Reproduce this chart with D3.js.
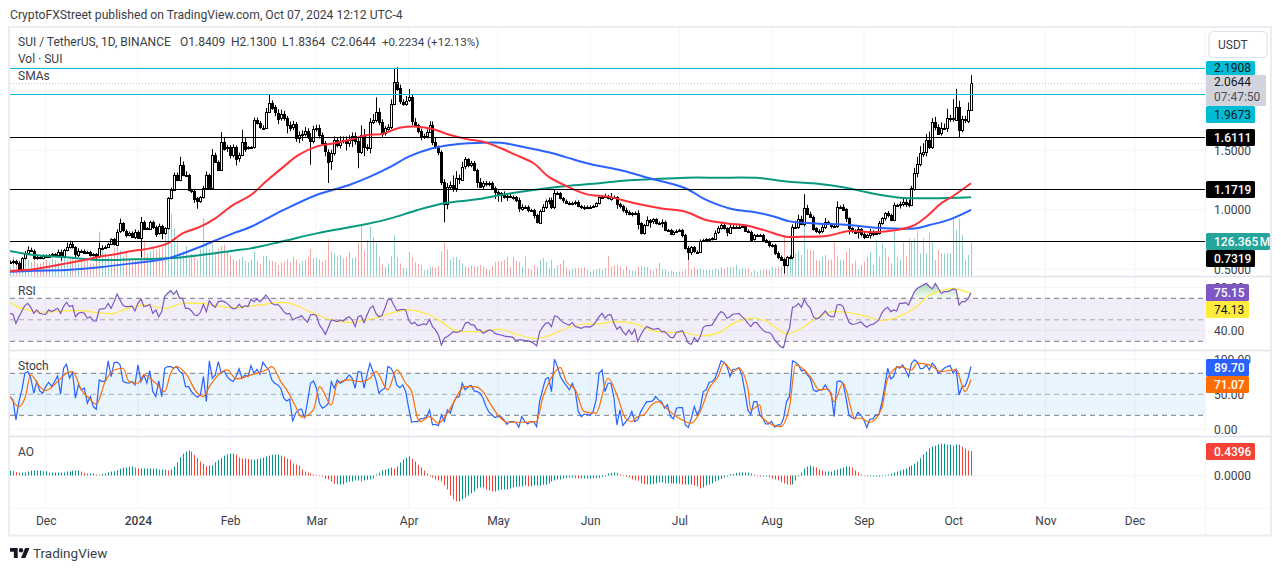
<!DOCTYPE html>
<html>
<head>
<meta charset="utf-8">
<script src="https://cdn.jsdelivr.net/npm/d3@7"></script>
<style>
  html, body { margin: 0; padding: 0; background: #fff; }
  svg { display: block; font-family: Roboto, "Noto Sans", sans-serif; }
  .legend { font-size: 12px; fill: #3b3e48; }
  .axis-label text { font-size: 12px; fill: #3b3e48; font-family: Roboto, "Noto Sans", sans-serif; }
  .axis-label path, .axis-label line { display: none; }
</style>
</head>
<body>
<div id="chart"></div>
<script>
const WIDTH = 1281;
const HEIGHT = 571;

const firstDay = Date.UTC(2023, 10, 19);
const lastPrice = 2.0644;

const closes = [
  0.563,0.569,0.555,0.499,0.591,0.633,0.661,0.656,0.600,0.605,
  0.594,0.614,0.605,0.619,0.625,0.617,0.645,0.611,0.661,0.684,
  0.709,0.684,0.622,0.656,0.656,0.639,0.645,0.617,0.625,0.605,
  0.675,0.681,0.689,0.712,0.751,0.709,0.815,0.885,0.824,0.787,
  0.807,0.773,0.815,0.768,0.899,0.843,0.843,0.899,0.857,0.801,
  0.863,0.801,0.843,1.096,1.166,1.292,1.250,1.376,1.292,1.292,
  1.166,1.160,1.096,1.068,1.104,1.180,1.292,1.180,1.460,1.404,
  1.334,1.572,1.516,1.524,1.460,1.530,1.432,1.460,1.572,1.516,
  1.524,1.524,1.754,1.726,1.689,1.689,1.824,1.899,1.860,1.815,
  1.768,1.801,1.768,1.712,1.689,1.717,1.600,1.628,1.636,1.664,
  1.614,1.577,1.675,1.684,1.628,1.558,1.488,1.404,1.474,1.586,
  1.544,1.577,1.586,1.558,1.586,1.619,1.577,1.488,1.628,1.530,
  1.524,1.740,1.754,1.824,1.740,1.642,1.684,1.698,1.888,2.076,
  2.020,1.908,1.894,1.916,1.944,1.740,1.712,1.661,1.614,1.619,
  1.656,1.712,1.572,1.530,1.488,1.236,1.054,1.194,1.208,1.180,
  1.264,1.255,1.362,1.423,1.376,1.390,1.334,1.236,1.194,1.222,
  1.216,1.227,1.185,1.152,1.138,1.124,1.104,1.115,1.110,1.104,
  1.082,1.011,1.026,1.026,0.998,0.998,0.956,0.894,0.992,1.026,
  1.076,1.082,1.026,1.143,1.138,1.096,1.076,1.059,1.048,1.059,
  1.068,1.031,1.026,1.017,1.026,1.026,1.031,1.054,1.104,1.110,
  1.115,1.096,1.110,1.104,1.048,1.031,0.998,0.984,0.964,0.970,
  0.975,0.885,0.801,0.871,0.913,0.899,0.919,0.885,0.891,0.899,
  0.829,0.829,0.796,0.815,0.824,0.829,0.787,0.675,0.639,0.684,
  0.647,0.647,0.740,0.745,0.751,0.751,0.759,0.807,0.843,0.871,
  0.843,0.807,0.857,0.857,0.857,0.857,0.863,0.824,0.815,0.751,
  0.787,0.787,0.787,0.745,0.731,0.703,0.703,0.639,0.605,0.583,
  0.535,0.600,0.605,0.857,0.849,0.919,0.880,1.011,0.964,0.941,
  0.843,0.815,0.824,0.857,0.899,0.880,0.863,0.857,1.020,1.026,
  1.003,0.927,0.843,0.815,0.807,0.835,0.796,0.773,0.787,0.807,
  0.796,0.801,0.885,0.927,0.969,0.956,0.913,1.040,1.040,1.048,
  1.068,1.054,1.040,1.180,1.311,1.384,1.474,1.488,1.586,1.530,
  1.740,1.698,1.642,1.684,1.684,1.768,1.768,1.759,1.866,1.670,
  1.759,1.748,1.8409,2.0644
];

const upperWicks = [
  .01,.01,.01,.01,.01,.02,.03,.02,.01,.01,
  .01,.01,.01,.01,.01,.01,.02,.02,.01,.04,
  .03,.02,.01,.02,.01,.01,.01,.01,.01,.01,
  .05,.02,.01,.01,.01,.01,.02,.04,.01,.01,
  .01,.01,.02,.01,.04,.01,.01,.01,.01,.01,
  .02,.01,.01,.01,.02,.02,.02,.07,.03,.03,
  .01,.01,.01,.01,.01,.02,.03,.01,.05,.02,
  .01,.08,.04,.02,.02,.02,.01,.02,.10,.03,
  .01,.01,.02,.02,.02,.02,.03,.07,.02,.02,
  .03,.04,.03,.02,.03,.03,.02,.03,.03,.03,
  .02,.03,.03,.03,.03,.02,.02,.02,.03,.03,
  .02,.04,.03,.03,.04,.03,.03,.03,.08,.05,
  .02,.03,.05,.12,.03,.02,.02,.02,.04,.11,
  .12,.03,.02,.04,.07,.02,.03,.01,.02,.02,
  .02,.03,.03,.03,.01,.01,.02,.03,.03,.08,
  .06,.03,.04,.02,.01,.02,.02,.01,.03,.02,
  .02,.01,.01,.01,.01,.01,.03,.01,.02,.01,
  .01,.02,.02,.01,.01,.01,.01,.01,.01,.02,
  .01,.02,.02,.03,.01,.01,.01,.01,.01,.01,
  .01,.01,.01,.01,.01,.01,.01,.01,.01,.01,
  .02,.01,.03,.01,.01,.01,.01,.02,.01,.01,
  .01,.02,.01,.01,.03,.01,.01,.01,.01,.02,
  .01,.01,.01,.01,.01,.01,.01,.01,.02,.01,
  .01,.01,.01,.01,.01,.01,.01,.02,.02,.02,
  .02,.01,.02,.02,.01,.02,.01,.01,.01,.01,
  .01,.01,.01,.01,.01,.01,.01,.01,.01,.01,
  .01,.01,.01,.02,.05,.04,.03,.12,.03,.02,
  .01,.01,.01,.02,.03,.01,.01,.01,.05,.01,
  .02,.01,.01,.01,.02,.02,.01,.02,.01,.03,
  .02,.02,.02,.01,.01,.02,.01,.02,.01,.02,
  .03,.02,.03,.02,.04,.06,.06,.07,.05,.07,
  .03,.04,.02,.05,.04,.08,.03,.16,.15,.05,
  .03,.03,.06,.066
];

const lowerWicks = [
  .01,.02,.02,.01,.01,.01,.01,.01,.02,.02,
  .01,.01,.01,.01,.01,.01,.01,.04,.01,.01,
  .01,.01,.02,.02,.01,.01,.01,.01,.01,.03,
  .01,.01,.01,.01,.01,.01,.01,.01,.01,.02,
  .01,.01,.02,.01,.17,.01,.01,.01,.02,.03,
  .01,.05,.01,.01,.01,.01,.01,.01,.01,.01,
  .01,.02,.04,.06,.01,.01,.01,.01,.01,.01,
  .01,.01,.02,.03,.03,.02,.06,.03,.01,.03,
  .01,.01,.01,.01,.01,.01,.01,.01,.02,.03,
  .05,.02,.02,.07,.03,.02,.03,.04,.05,.02,
  .02,.20,.02,.02,.03,.02,.04,.18,.07,.02,
  .02,.03,.02,.06,.03,.06,.03,.14,.02,.08,
  .03,.05,.02,.02,.03,.03,.02,.02,.02,.01,
  .02,.02,.02,.02,.01,.03,.01,.02,.03,.02,
  .02,.01,.03,.02,.03,.03,.16,.05,.02,.03,
  .03,.04,.01,.02,.02,.02,.01,.05,.01,.02,
  .02,.02,.02,.06,.07,.06,.01,.03,.01,.02,
  .02,.03,.02,.01,.02,.01,.03,.01,.01,.01,
  .02,.03,.02,.02,.01,.01,.02,.01,.01,.01,
  .02,.01,.02,.02,.01,.01,.01,.01,.01,.01,
  .01,.01,.02,.01,.04,.02,.02,.03,.01,.02,
  .01,.05,.01,.01,.01,.05,.02,.01,.01,.04,
  .01,.01,.01,.01,.01,.01,.02,.01,.06,.02,
  .01,.01,.01,.01,.01,.01,.01,.01,.01,.01,
  .01,.03,.01,.01,.01,.01,.01,.01,.01,.02,
  .01,.01,.01,.01,.01,.02,.02,.02,.02,.01,
  .07,.01,.01,.02,.01,.01,.01,.02,.01,.01,
  .02,.01,.02,.02,.02,.01,.02,.01,.01,.01,
  .01,.03,.05,.01,.01,.05,.02,.02,.01,.03,
  .02,.01,.01,.01,.02,.02,.01,.01,.01,.03,
  .02,.03,.02,.01,.02,.04,.02,.03,.04,.02,
  .02,.03,.01,.02,.01,.03,.03,.02,.01,.06,
  .02,.02,.02,.003
];

const volumes = [
  34,71,40,59,46,71,59,52,59,46,
  46,52,59,52,65,59,52,61,71,59,
  65,71,59,46,52,59,59,46,46,59,
  162,107,83,71,71,101,137,95,71,83,
  59,61,59,52,193,131,83,89,107,98,
  101,107,174,218,227,174,137,83,89,110,
  70,80,70,60,100,212,130,100,115,90,
  100,110,115,93,75,60,55,62,70,55,
  50,60,89,55,46,73,74,60,55,50,
  40,52,55,61,52,70,60,46,55,59,
  71,98,65,65,60,52,60,134,89,83,
  71,77,65,70,89,65,70,122,184,95,
  132,180,143,120,70,43,34,46,73,149,
  70,46,30,28,89,70,50,44,40,20,
  24,32,34,30,36,90,126,98,60,70,
  70,60,46,34,32,38,34,36,40,34,
  26,22,38,52,55,52,59,71,34,71,
  55,52,34,71,28,22,40,34,59,65,
  52,28,59,28,40,44,59,32,22,28,
  28,30,28,32,22,16,22,24,28,22,
  28,73,34,40,40,34,24,37,22,20,
  20,34,37,34,32,22,18,28,49,24,
  24,16,20,16,13,16,16,24,59,24,
  34,24,28,24,22,24,22,26,24,32,
  26,32,32,34,40,24,28,24,28,13,
  20,16,22,22,24,22,32,30,32,34,
  148,52,77,85,85,93,77,180,98,95,
  93,59,55,71,77,59,61,126,71,59,
  59,89,101,46,55,22,40,52,71,89,
  40,132,71,120,101,71,46,168,71,59,
  122,71,138,126,138,168,83,138,83,159,
  126,59,95,83,83,83,83,207,168,211,
  150,61,77,126.365
];

const sma50Days = [0,8,13,19,25,30,36,41,47,53,58,64,69,75,81,86,92,97,103,109,114,120,125,131,137,142,148,154,159,165,170,176,181,187,194,201,210,219,227,234,241,248,254,261,266,275,282,290,298,304,308,313,317,323];
const sma50Values = [0.485,0.499,0.521,0.549,0.577,0.605,0.628,0.653,0.675,0.717,0.801,0.857,0.927,1.040,1.124,1.236,1.362,1.460,1.530,1.558,1.586,1.628,1.636,1.689,1.698,1.678,1.628,1.591,1.572,1.516,1.460,1.390,1.278,1.199,1.129,1.110,1.054,1.011,0.983,0.913,0.885,0.866,0.824,0.773,0.773,0.782,0.821,0.810,0.829,0.871,0.941,1.054,1.115,1.222];
const sma100Days = [0,8,19,30,41,53,64,68,75,81,92,103,114,121,128,134,142,148,154,165,171,181,187,195,206,215,227,234,243,250,257,262,271,282,291,304,309,316,323];
const sma100Values = [0.479,0.488,0.493,0.516,0.549,0.591,0.689,0.731,0.801,0.857,0.998,1.124,1.208,1.278,1.362,1.446,1.516,1.544,1.558,1.563,1.535,1.482,1.440,1.384,1.328,1.264,1.180,1.082,1.003,0.981,0.941,0.902,0.885,0.871,0.849,0.843,0.871,0.919,0.998];
const sma200Days = [0,8,19,30,41,53,64,75,81,92,103,120,128,137,146,157,165,176,187,198,206,215,227,238,252,261,270,281,288,299,310,323];
const sma200Values = [0.653,0.619,0.600,0.577,0.583,0.591,0.619,0.656,0.675,0.737,0.801,0.880,0.927,0.998,1.054,1.087,1.124,1.166,1.199,1.222,1.244,1.255,1.269,1.269,1.266,1.236,1.222,1.185,1.146,1.101,1.096,1.104];

const blackLevels = [1.6111, 1.1719, 0.7319];
const cyanLevels = [2.1908, 1.9673];
const priceTicks = [2, 1.5, 1, 0.5];
const priceLabelTicks = [1.5, 1, 0.5];

const rsiValues = [
  56.0,55.1,46.7,52.9,58.2,63.2,65.3,61.6,56.0,59.2,
  56.0,55.4,55.1,59.2,57.6,59.2,60.7,56.0,62.3,66.3,
  62.3,63.2,52.9,56.0,57.0,56.0,51.4,52.9,48.9,48.9,
  59.8,60.1,60.7,65.3,60.7,66.9,74.0,68.5,63.2,62.3,
  62.3,62.9,58.2,65.3,69.4,62.3,62.9,64.4,56.0,59.2,
  52.9,57.6,71.6,74.7,77.1,73.7,77.1,70.0,70.0,60.7,
  60.7,58.2,54.5,53.9,57.0,64.4,57.6,67.8,63.8,61.6,
  66.9,67.5,66.9,65.3,62.3,60.1,60.7,64.4,61.3,63.2,
  62.3,69.4,66.9,69.4,66.9,69.4,73.1,69.4,65.3,63.8,
  64.4,61.6,57.6,55.4,56.0,49.9,51.4,52.3,53.9,50.5,
  47.7,54.5,55.1,53.9,45.2,41.5,36.5,43.0,49.9,49.2,
  48.3,49.9,48.9,51.4,52.9,49.9,43.7,52.9,53.9,47.4,
  54.5,60.7,62.9,56.0,52.9,53.9,60.7,68.5,69.4,63.8,
  58.5,59.2,59.8,59.2,49.9,46.1,47.7,44.6,45.2,46.1,
  45.6,50.5,43.7,40.6,35.9,26.6,32.8,34.4,36.5,39.0,
  38.4,38.9,40.6,46.7,47.7,45.2,45.2,40.6,40.6,37.4,
  39.0,40.6,39.9,37.4,36.5,
  35.9,35.0,34.4,34.4,33.7,30.6,31.3,31.3,30.6,30.6,
  29.7,28.2,25.7,39.0,43.0,46.7,47.4,43.7,53.6,52.9,
  49.9,47.4,46.1,45.2,47.4,43.7,43.0,42.1,43.3,43.7,
  43.3,45.2,48.3,52.9,56.0,51.4,54.5,54.5,46.7,41.2,
  43.7,39.0,35.9,40.6,36.5,41.2,29.7,35.9,40.6,43.7,
  42.5,41.2,41.5,42.1,39.0,39.0,36.5,33.7,33.4,38.4,
  39.0,39.9,34.4,28.2,27.2,33.4,29.7,34.4,43.0,44.6,
  44.6,45.2,49.9,54.5,57.6,56.0,51.4,52.9,55.4,55.4,
  56.0,52.9,50.5,46.7,43.7,47.4,47.4,43.7,40.6,38.4,
  38.4,36.5,31.3,28.2,25.0,24.1,35.9,42.1,61.6,62.3,
  65.3,61.6,69.1,63.8,60.7,52.9,50.8,52.0,55.1,58.2,
  54.5,52.9,52.9,63.8,64.4,62.3,54.5,47.7,45.8,46.1,
  47.0,48.3,45.2,43.0,45.2,45.8,47.4,49.9,56.0,59.8,
  61.6,57.6,59.2,58.2,65.3,65.3,66.0,63.8,70.0,76.2,
  79.3,80.9,82.4,83.9,80.9,78.7,83.9,79.3,74.7,76.2,
  76.2,77.1,78.7,77.8,63.8,66.9,66.9,69.4,75.15
];

const rsiMaDays = [0,3,7,11,17,24,29,35,39,45,50,53,57,64,68,73,77,84,91,95,102,109,115,120,124,130,134,141,145,149,154,159,165,170,177,181,187,193,197,204,210,215,221,226,233,239,243,249,254,261,266,271,276,281,287,293,298,304,309,313,317,323];
const rsiMaValues = [66.3,61.6,58.5,57.0,58.2,58.5,56.7,56.0,60.1,63.8,61.6,60.7,64.7,65.3,63.8,61.6,61.6,63.8,66.3,64.7,56.0,49.2,47.7,49.9,52.9,57.6,59.2,54.5,48.3,40.6,39.0,39.0,41.2,36.5,32.5,35.0,42.1,46.1,46.1,48.3,46.4,40.6,38.4,38.4,35.0,39.0,46.7,51.4,48.9,37.1,42.1,51.4,57.6,57.0,53.9,49.5,52.3,60.7,73.1,77.1,79.3,74.13];

const stochK = [
  46.8,42.0,13.4,39.6,56.3,80.1,82.5,72.9,51.5,68.2,
  54.9,51.5,61.0,67.2,61.0,68.2,76.3,50.1,87.2,92.9,
  72.9,81.5,44.4,63.4,56.3,58.7,37.2,46.8,32.5,28.7,
  70.6,68.2,69.1,97.7,75.3,95.3,95.8,92.0,68.2,66.7,
  65.8,68.2,63.4,92.0,68.2,77.7,65.8,83.9,53.9,46.8,
  69.1,46.8,87.2,89.6,89.6,87.2,89.6,82.5,80.1,61.0,
  61.0,53.9,49.1,45.8,49.1,75.3,39.6,97.7,72.9,77.7,
  96.7,80.1,83.4,75.3,70.6,68.2,75.3,86.3,72.9,77.7,
  75.3,91.0,80.1,85.8,78.7,95.8,89.6,84.8,70.6,65.8,
  63.4,58.7,44.4,40.6,43.4,11.1,23.0,27.7,29.1,15.8,
  39.6,65.8,69.1,58.7,37.2,30.1,32.5,37.2,68.2,58.7,
  70.6,65.8,68.2,72.0,77.7,72.9,58.7,82.5,81.5,58.7,
  77.7,94.4,82.5,70.6,51.5,56.3,58.7,89.6,87.2,80.1,
  63.4,59.6,63.4,53.9,30.1,10.1,11.1,11.1,14.9,15.8,
  18.0,27.7,6.3,7.2,5.3,20.6,11.1,27.7,23.0,37.2,45.3,
  46.8,65.8,56.3,61.0,62.5,54.9,53.9,51.5,44.4,32.5,
  24.4,20.6,16.8,18.2,
  18.2,13.4,7.2,11.1,11.1,10.1,3.0,18.2,11.1,7.7,
  11.1,11.1,3.9,39.6,56.3,72.0,73.9,53.9,100,89.6,
  75.3,68.2,62.5,56.3,65.8,53.9,25.3,18.2,21.5,21.5,
  19.6,25.3,42.0,80.1,84.8,53.9,65.8,65.8,44.4,6.3,
  27.7,5.3,11.1,15.8,25.3,11.1,13.4,25.3,32.5,39.6,
  39.6,40.6,46.8,42.0,39.6,30.1,34.9,18.2,14.9,30.1,31.1,
  31.1,6.3,2.5,15.8,32.5,20.6,30.1,53.9,56.3,67.2,
  68.2,72.9,84.8,97.7,95.8,89.6,75.3,85.8,85.8,88.2,
  77.7,53.9,27.7,21.5,39.6,39.6,20.6,15.8,7.7,7.7,
  11.1,3.0,6.3,6.3,15.8,39.6,46.8,97.7,95.8,92.0,
  83.4,84.8,77.7,72.9,56.3,53.9,56.3,56.3,63.4,56.3,
  51.5,18.2,68.2,69.1,65.8,44.4,19.6,16.8,14.9,24.4,
  20.0,13.4,2.5,14.4,14.9,20.6,20.6,37.2,61.0,87.2,
  72.0,75.3,89.6,87.2,92.0,84.8,75.3,94.4,99.1,95.8,
  86.3,87.2,92.0,84.8,94.4,89.6,80.1,83.4,87.2,89.6,
  91.0,80.1,85.8,49.1,61.0,61.6,73.0,89.70
];

const stochDDays = [0,3,5,7,10,12,16,19,21,24,26,29,32,35,38,40,43,45,49,52,54,56,59,63,65,67,69,73,76,81,86,88,91,93,96,98,102,104,108,110,114,118,121,123,127,130,133,135,137,138,141,144,147,153,156,159,161,164,167,171,177,179,181,185,187,190,193,197,201,204,207,209,211,213,216,218,220,224,229,232,235,238,240,243,245,248,249,252,253,259,262,264,269,272,275,277,280,281,284,286,289,293,295,299,303,305,309,313,318,321,323];
const stochDValues = [46.8,32.5,44.4,77.7,61.0,55.3,68.2,80.1,82.5,56.3,46.8,35.8,68.2,84.8,87.2,68.2,65.8,77.7,65.8,53.9,80.1,89.6,80.1,51.5,46.8,61.0,72.9,84.8,72.0,77.7,84.8,89.6,68.2,56.3,32.5,17.3,27.7,61.0,34.9,65.8,70.6,68.2,72.9,82.5,56.3,84.8,65.8,53.9,15.8,11.1,18.2,8.7,23.0,61.0,61.0,53.9,39.6,20.6,10.1,10.1,11.1,44.4,65.8,88.2,68.2,56.3,25.3,23.0,72.9,49.1,14.9,11.1,18.2,20.6,36.3,39.6,32.5,18.2,8.7,25.3,58.7,75.3,94.4,82.5,87.2,58.7,27.7,34.9,15.8,3.9,32.5,92.0,75.3,56.3,57.7,39.6,65.8,56.3,15.8,15.8,10.1,30.1,72.9,89.6,84.8,94.4,92.0,82.5,84.8,53.9,71.07];

const aoValues = [
  .089,.077,.06,.054,.054,.054,.071,.089,.089,.089,
  .089,.077,.077,.054,.054,.054,.054,.054,.054,.071,
  .071,.089,.089,.089,.071,.048,.036,.036,.036,.018,
  .012,.03,.036,.054,.071,.077,.095,.119,.143,.143,
  .161,.161,.143,.125,.125,.125,.125,.125,.125,.125,
  .107,.107,.107,.089,.107,.161,.238,.327,.393,.429,
  .446,.429,.369,.31,.25,.208,.167,.179,.179,.238,
  .274,.31,.357,.381,.393,.393,.375,.321,.304,.304,
  .298,.286,.286,.298,.304,.321,.339,.357,.375,.375,
  .375,.357,.339,.304,.286,.214,.196,.179,.107,.071,
  .054,.036,.018,.012,-.012,-.018,-.054,-.071,-.107,-.149,
  -.161,-.161,-.161,-.125,-.107,-.107,-.089,-.089,-.107,-.089,
  -.077,-.071,-.054,.018,.054,.089,.107,.125,.143,.125,
  .161,.232,.286,.321,.339,.298,.25,.196,.143,.089,
  .036,-.018,-.036,-.071,-.089,-.107,-.179,-.25,-.357,-.429,
  -.464,-.464,-.429,-.393,-.357,-.321,-.286,-.232,-.214,-.214,
  -.25,-.268,-.286,-.286,-.268,
  -.25,-.25,-.25,-.232,-.214,-.202,-.196,-.196,-.179,-.196,
  -.196,-.179,-.179,-.179,-.167,-.161,-.143,-.107,-.089,-.071,
  -.071,-.054,-.042,-.036,-.036,-.048,-.054,-.054,-.054,-.054,
  -.054,-.048,-.048,-.042,-.03,-.018,.036,.048,.054,.048,
  .018,-.012,-.024,-.036,-.071,-.083,-.095,-.143,-.155,-.161,
  -.161,-.155,-.143,-.125,-.125,-.143,-.143,-.143,-.143,-.143,
  -.149,-.161,-.161,-.161,-.161,-.179,-.196,-.232,-.214,-.179,
  -.161,-.143,-.107,-.089,-.065,-.036,-.018,.024,.03,.048,
  .054,.054,.054,.054,.036,.018,-.012,-.018,-.018,-.018,
  -.03,-.054,-.071,-.089,-.119,-.143,-.161,-.167,-.161,-.089,
  -.018,.054,.125,.161,.179,.161,.143,.107,.089,.071,
  .071,.071,.089,.107,.125,.143,.161,.161,.143,.089,
  .054,.018,-.012,-.018,-.018,-.018,-.018,-.018,-.012,-.012,
  .018,.036,.054,.071,.089,.107,.125,.161,.179,.214,
  .25,.31,.375,.429,.482,.518,.536,.554,.571,.571,
  .554,.554,.536,.554,.554,.518,.482,.446,.4396
];

const timeTicks = [[2023,11],[2024,0],[2024,1],[2024,2],[2024,3],[2024,4],[2024,5],[2024,6],[2024,7],[2024,8],[2024,9],[2024,10],[2024,11]];
const timeTickLabels = ["Dec","2024","Feb","Mar","Apr","May","Jun","Jul","Aug","Sep","Oct","Nov","Dec"];

const COLORS = {
  grid: "#f3f5f9",
  separator: "#e0e3eb",
  frame: "#ebedf3",
  cyan: "#00bcd4",
  up: "rgba(38,166,154,0.5)",
  down: "rgba(239,83,80,0.5)",
  sma50: "#ff3038",
  sma100: "#2962ff",
  sma200: "#089981",
  rsi: "#7e57c2",
  rsiMa: "#ffeb3b",
  stochK: "#2962ff",
  stochD: "#ff6d00",
  aoUp: "#009688",
  aoDown: "#f44336",
  dash: "#787b86"
};

const PLOT_LEFT = 10;
const PLOT_RIGHT = 1205;

const dayToDate = (i) => new Date(firstDay + i * 86400000);

const x = d3.scaleUtc()
  .domain([dayToDate(0), dayToDate(323)])
  .range([10, 971]);
const xDay = (i) => x(dayToDate(i));
// left edge of the pixel column a daily mark sits on
const xPixel = (i) => Math.round(xDay(i));

const yPrice = d3.scaleLinear().domain([0.5, 2]).range([269.2, 90.7]);
const yVolume = d3.scaleLinear().domain([0, 126.365]).range([276, 241.5]);
const yRsi = d3.scaleLinear().domain([30, 70]).range([341.3, 298.3]);
const yStoch = d3.scaleLinear().domain([0, 100]).range([429.3, 359.3]);
const yAo = d3.scaleLinear().domain([0, 0.4396]).range([475.5, 451]);
const levelRow = (price) => Math.floor(yPrice(price) + 0.1) + 0.5;

const svg = d3.select("#chart")
  .append("svg")
  .attr("width", WIDTH)
  .attr("height", HEIGHT)
  .attr("viewBox", `0 0 ${WIDTH} ${HEIGHT}`);

const defs = svg.append("defs");

function addClip(id, top, bottom) {
  defs.append("clipPath")
    .attr("id", id)
    .append("rect")
    .attr("x", PLOT_LEFT)
    .attr("y", top)
    .attr("width", PLOT_RIGHT - PLOT_LEFT)
    .attr("height", bottom - top);
}

addClip("clip-main", 27, 276);
addClip("clip-rsi", 277, 350);
addClip("clip-stoch", 351, 436);
addClip("clip-ao", 437, 508);

// frame and pane separators
svg.append("rect")
  .attr("x", 9)
  .attr("y", 27)
  .attr("width", 1262)
  .attr("height", 508.5)
  .attr("fill", "#fff")
  .attr("stroke", COLORS.frame)
  .attr("stroke-width", 2);

const gridLayer = svg.append("g");

gridLayer.selectAll(".v-grid")
  .data(timeTicks)
  .join("line")
  .attr("x1", (d) => x(new Date(Date.UTC(d[0], d[1], 1))))
  .attr("x2", (d) => x(new Date(Date.UTC(d[0], d[1], 1))))
  .attr("y1", 28)
  .attr("y2", 508)
  .attr("stroke", COLORS.grid);

function hGrid(values, scale) {
  gridLayer.append("g")
    .selectAll("line")
    .data(values)
    .join("line")
    .attr("x1", PLOT_LEFT)
    .attr("x2", PLOT_RIGHT)
    .attr("y1", (d) => scale(d))
    .attr("y2", (d) => scale(d))
    .attr("stroke", COLORS.grid);
}

hGrid(priceTicks, yPrice);
hGrid([80, 40], yRsi);
hGrid([100, 0], yStoch);
hGrid([0], yAo);

// main pane
const mainPane = svg.append("g").attr("clip-path", "url(#clip-main)");
const opens = closes.map((close, i) => (i === 0 ? close : closes[i - 1]));

mainPane.append("g")
  .selectAll("rect")
  .data(volumes)
  .join("rect")
  .attr("x", (d, i) => xPixel(i))
  .attr("width", 1)
  .attr("y", (d) => yVolume(d))
  .attr("height", (d) => yVolume(0) - yVolume(d))
  .attr("fill", (d, i) => (closes[i] >= opens[i] ? COLORS.up : COLORS.down));

mainPane.append("g")
  .selectAll("line")
  .data(closes)
  .join("line")
  .attr("x1", (d, i) => xPixel(i) + 0.5)
  .attr("x2", (d, i) => xPixel(i) + 0.5)
  .attr("y1", (d, i) => yPrice(Math.max(d, opens[i]) + upperWicks[i]))
  .attr("y2", (d, i) => yPrice(Math.min(d, opens[i]) - lowerWicks[i]))
  .attr("stroke", "#000");

mainPane.append("g")
  .selectAll("rect")
  .data(closes)
  .join("rect")
  .attr("x", (d, i) => xPixel(i) - 0.5)
  .attr("width", 2)
  .attr("y", (d, i) => Math.round(yPrice(Math.max(d, opens[i]))) + 0.5)
  .attr("height", (d, i) => Math.max(1, Math.round(Math.abs(yPrice(d) - yPrice(opens[i])))))
  .attr("fill", (d, i) => (d >= opens[i] ? "#fff" : "#000"))
  .attr("stroke", "#000");

const smaLine = d3.line()
  .x((d) => xDay(d[0]))
  .y((d) => yPrice(d[1]))
  .curve(d3.curveCatmullRom.alpha(0.5));

[
  [sma200Days, sma200Values, COLORS.sma200],
  [sma100Days, sma100Values, COLORS.sma100],
  [sma50Days, sma50Values, COLORS.sma50]
].forEach(([days, values, color]) => {
  mainPane.append("path")
    .attr("d", smaLine(d3.zip(days, values)))
    .attr("fill", "none")
    .attr("stroke", color)
    .attr("stroke-width", 2);
});

function levelLines(values, color) {
  svg.append("g")
    .selectAll("line")
    .data(values)
    .join("line")
    .attr("x1", PLOT_LEFT)
    .attr("x2", PLOT_RIGHT)
    .attr("y1", (d) => levelRow(d))
    .attr("y2", (d) => levelRow(d))
    .attr("stroke", color);
}

levelLines(blackLevels, "#000");
levelLines(cyanLevels, COLORS.cyan);

svg.append("line")
  .attr("x1", PLOT_LEFT)
  .attr("x2", PLOT_RIGHT)
  .attr("y1", levelRow(lastPrice))
  .attr("y2", levelRow(lastPrice))
  .attr("stroke", "#c4c7d0")
  .attr("stroke-dasharray", "1 2");

// RSI pane
const rsiPane = svg.append("g").attr("clip-path", "url(#clip-rsi)");

rsiPane.append("rect")
  .attr("x", PLOT_LEFT)
  .attr("width", PLOT_RIGHT - PLOT_LEFT)
  .attr("y", yRsi(70))
  .attr("height", yRsi(30) - yRsi(70))
  .attr("fill", "rgba(126,87,194,0.1)");

const obGradient = defs.append("linearGradient")
  .attr("id", "rsi-overbought")
  .attr("gradientUnits", "userSpaceOnUse")
  .attr("x1", 0)
  .attr("x2", 0)
  .attr("y1", yRsi(85))
  .attr("y2", yRsi(70));
obGradient.append("stop").attr("offset", "0%").attr("stop-color", "#4caf50").attr("stop-opacity", 0.5);
obGradient.append("stop").attr("offset", "100%").attr("stop-color", "#4caf50").attr("stop-opacity", 0.03);

rsiPane.append("path")
  .attr("d", d3.area()
    .x((d, i) => xDay(i))
    .y0(yRsi(70))
    .y1((d) => yRsi(Math.max(d, 70)))(rsiValues))
  .attr("fill", "url(#rsi-overbought)");

function dashLines(pane, values, scale) {
  pane.append("g")
    .selectAll("line")
    .data(values)
    .join("line")
    .attr("x1", PLOT_LEFT)
    .attr("x2", PLOT_RIGHT)
    .attr("y1", (d) => scale(d.level))
    .attr("y2", (d) => scale(d.level))
    .attr("stroke", COLORS.dash)
    .attr("stroke-opacity", (d) => d.opacity)
    .attr("stroke-dasharray", "5 4");
}

dashLines(rsiPane, [{ level: 70, opacity: 1 }, { level: 50, opacity: 0.6 }, { level: 30, opacity: 1 }], yRsi);

rsiPane.append("path")
  .attr("d", d3.line().x((d) => xDay(d[0])).y((d) => yRsi(d[1])).curve(d3.curveCatmullRom.alpha(0.5))(d3.zip(rsiMaDays, rsiMaValues)))
  .attr("fill", "none")
  .attr("stroke", COLORS.rsiMa)
  .attr("stroke-width", 1.2);

rsiPane.append("path")
  .attr("d", d3.line().x((d, i) => xDay(i)).y((d) => yRsi(d))(rsiValues))
  .attr("fill", "none")
  .attr("stroke", COLORS.rsi)
  .attr("stroke-width", 1.2);

// Stoch pane
const stochPane = svg.append("g").attr("clip-path", "url(#clip-stoch)");

stochPane.append("rect")
  .attr("x", PLOT_LEFT)
  .attr("width", PLOT_RIGHT - PLOT_LEFT)
  .attr("y", yStoch(80))
  .attr("height", yStoch(20) - yStoch(80))
  .attr("fill", "rgba(33,150,243,0.1)");

dashLines(stochPane, [{ level: 80, opacity: 1 }, { level: 50, opacity: 0.6 }, { level: 20, opacity: 1 }], yStoch);

stochPane.append("path")
  .attr("d", d3.line().x((d, i) => xDay(i)).y((d) => yStoch(d))(stochK))
  .attr("fill", "none")
  .attr("stroke", COLORS.stochK)
  .attr("stroke-width", 1.2);

stochPane.append("path")
  .attr("d", d3.line().x((d) => xDay(d[0])).y((d) => yStoch(d[1])).curve(d3.curveMonotoneX)(d3.zip(stochDDays, stochDValues)))
  .attr("fill", "none")
  .attr("stroke", COLORS.stochD)
  .attr("stroke-width", 1.2);

// AO pane
svg.append("g")
  .attr("clip-path", "url(#clip-ao)")
  .selectAll("rect")
  .data(aoValues)
  .join("rect")
  .attr("x", (d, i) => xPixel(i))
  .attr("width", 1)
  .attr("y", (d) => Math.min(yAo(d), yAo(0)))
  .attr("height", (d) => Math.abs(yAo(d) - yAo(0)))
  .attr("fill", (d, i) => (i > 0 && d < aoValues[i - 1] ? COLORS.aoDown : COLORS.aoUp));

// separators sit on top of the panes
svg.append("g")
  .selectAll("line")
  .data([276.5, 350.5, 436.5, 508.5])
  .join("line")
  .attr("x1", PLOT_LEFT)
  .attr("x2", 1270)
  .attr("y1", (d) => d)
  .attr("y2", (d) => d)
  .attr("stroke", (d) => (d === 508.5 ? COLORS.grid : COLORS.separator))
  .attr("stroke-width", (d) => (d === 508.5 ? 1 : 1.5));

svg.append("line")
  .attr("x1", PLOT_RIGHT + 0.5)
  .attr("x2", PLOT_RIGHT + 0.5)
  .attr("y1", 28)
  .attr("y2", 535)
  .attr("stroke", COLORS.grid);

// axes
function rightAxis(scale, values, format) {
  svg.append("g")
    .attr("class", "axis-label")
    .attr("transform", `translate(${PLOT_RIGHT + 1},0)`)
    .call(d3.axisRight(scale).tickValues(values).tickFormat(format).tickSize(0).tickPadding(8));
}

rightAxis(yPrice, priceLabelTicks, d3.format(".4f"));
rightAxis(yRsi, [80, 40], d3.format(".2f"));
rightAxis(yStoch, [100, 50, 0], d3.format(".2f"));
rightAxis(yAo, [0], d3.format(".4f"));

svg.append("g")
  .attr("class", "axis-label")
  .attr("transform", "translate(0,508)")
  .call(
    d3.axisBottom(x)
      .tickValues(timeTicks.map((d) => new Date(Date.UTC(d[0], d[1], 1))))
      .tickFormat((d, i) => timeTickLabels[i])
      .tickSize(0)
      .tickPadding(8)
  )
  .selectAll("text")
  .filter((d, i) => i === 1)
  .attr("font-weight", 500);

// price tags
function tag(y, h, w, fill, color, text, extra) {
  svg.append("rect")
    .attr("x", 1206)
    .attr("y", y)
    .attr("width", w)
    .attr("height", h)
    .attr("rx", 1.5)
    .attr("fill", fill);
  svg.append("text")
    .attr("x", 1214)
    .attr("y", extra ? y + 11 : y + h / 2 + 4.3)
    .attr("font-size", 12)
    .attr("font-weight", color === "#fff" ? 500 : 400)
    .attr("fill", color)
    .text(text);
  if (extra) {
    svg.append("text")
      .attr("x", 1214)
      .attr("y", y + 25.5)
      .attr("font-size", 12)
      .attr("fill", "#4a4d57")
      .text(extra);
  }
}

const priceFormat = d3.format(".4f");

tag(61, 14, 49, COLORS.cyan, "#131722", priceFormat(cyanLevels[0]));
tag(75, 31, 60, "#d1d4dc", "#131722", priceFormat(lastPrice), "07:47:50");
tag(106, 17, 49, COLORS.cyan, "#131722", priceFormat(cyanLevels[1]));
tag(129, 17, 49, "#000", "#fff", priceFormat(blackLevels[0]));
tag(181, 17, 49, "#000", "#fff", priceFormat(blackLevels[1]));
tag(233, 17, 64, "#26a69a", "#fff", `${d3.format(".3f")(volumes[323])}\u202fM`);
tag(250, 17, 49, "#000", "#fff", priceFormat(blackLevels[2]));
tag(284, 17, 43, COLORS.rsi, "#fff", d3.format(".2f")(rsiValues[323]));
tag(301, 17, 43, COLORS.rsiMa, "#131722", d3.format(".2f")(rsiMaValues[rsiMaValues.length - 1]));
tag(359, 17, 43, COLORS.stochK, "#fff", d3.format(".2f")(stochK[323]));
tag(376, 17, 43, COLORS.stochD, "#fff", d3.format(".2f")(stochDValues[stochDValues.length - 1]));
tag(443, 17, 49, "#f44336", "#fff", priceFormat(aoValues[323]));

// USDT button
svg.append("rect")
  .attr("x", 1209)
  .attr("y", 31.5)
  .attr("width", 58)
  .attr("height", 26)
  .attr("rx", 4)
  .attr("fill", "#fff")
  .attr("stroke", COLORS.separator)
  .attr("stroke-width", 1.2);

svg.append("text")
  .attr("class", "legend")
  .attr("x", 1218)
  .attr("y", 49)
  .text("USDT");

// legends
const legendItems = [
  ["CryptoFXStreet published on TradingView.com, Oct 07, 2024 12:12 UTC-4", 10, 19, 12.15],
  ["SUI / TetherUS, 1D, BINANCE", 18, 46, 12],
  ["O1.8409", 180, 46, 12],
  ["H2.1300", 231, 46, 12],
  ["L1.8364", 282, 46, 12],
  ["C2.0644", 331, 46, 12],
  ["+0.2234 (+12.13%)", 382, 46, 11.6],
  ["Vol · SUI", 18, 63, 12],
  ["SMAs", 18, 80, 12],
  ["RSI", 18, 295, 12],
  ["Stoch", 18, 370, 12],
  ["AO", 18, 456, 12]
];

svg.append("g")
  .selectAll("text")
  .data(legendItems)
  .join("text")
  .attr("class", "legend")
  .attr("x", (d) => d[1])
  .attr("y", (d) => d[2])
  .style("font-size", (d) => `${d[3]}px`)
  .text((d) => d[0]);

// footer logo
const logo = svg.append("g").attr("transform", "translate(10,545.8) scale(0.55)").attr("fill", "#131722");
logo.append("path").attr("d", "M14 22H7V11H0V4h14v18zM28 22h-8l7.5-18h8L28 22z");
logo.append("circle").attr("cx", 20).attr("cy", 8).attr("r", 4);

svg.append("text")
  .attr("x", 33)
  .attr("y", 558)
  .attr("font-size", 13.5)
  .attr("fill", "#3b3e48")
  .text("TradingView");
</script>
</body>
</html>
